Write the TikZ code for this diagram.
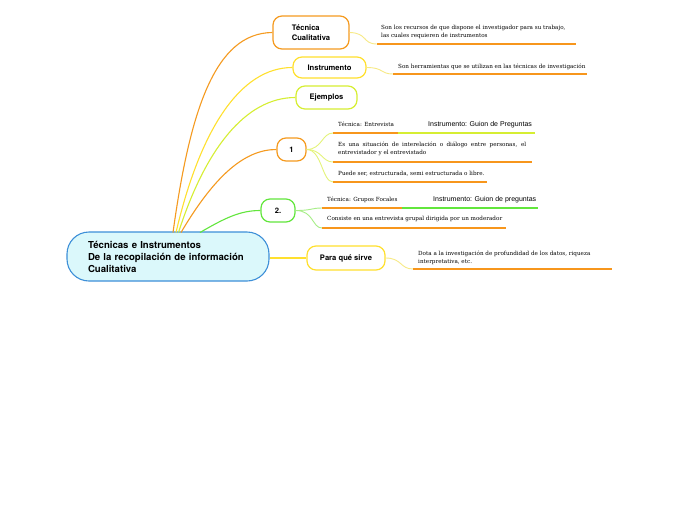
\documentclass[tikz,border=0pt]{standalone}
\usepackage{fontspec}
\setmainfont{DejaVu Serif}
\newfontfamily\hdfont{TeX Gyre Heros}
\newfontfamily\insfont{Liberation Sans}
\definecolor{orng}{HTML}{F59A1F}
\definecolor{yel}{HTML}{FFE02E}
\definecolor{ygr}{HTML}{D6EE32}
\definecolor{grn}{HTML}{62E63C}
\definecolor{paley}{HTML}{F7EA86}
\definecolor{paleyg}{HTML}{E4F37A}
\definecolor{paleg}{HTML}{A6EE86}
\definecolor{cfill}{HTML}{DBF8FB}
\definecolor{cline}{HTML}{3D8FD8}
\definecolor{ulo}{HTML}{F7961C}
\tikzset{
  x=1pt,y=-1pt,
  branch/.style={draw,line width=1.2pt,rounded corners=9pt,fill=white,inner sep=0pt,font=\hdfont\bfseries\fontsize{7.6}{10.5}\selectfont,align=left},
  leaf/.style={anchor=north west,inner sep=0pt,font=\fontsize{5.65}{7.8}\selectfont,align=left},
  insleaf/.style={anchor=north west,inner sep=0pt,font=\insfont\fontsize{7}{8}\selectfont},
  conn/.style={line width=1.1pt},
  lconn/.style={line width=0.9pt},
  uline/.style={line width=1.8pt},
}
\begin{document}
\begin{tikzpicture}
\useasboundingbox[fill=white] (0,0) rectangle (696,520);
% central
\node[draw=cline,fill=cfill,line width=1.1pt,rounded corners=22pt,minimum width=202pt,minimum height=49pt,inner sep=0pt,text width=160pt,align=left,font=\hdfont\bfseries\fontsize{9.6}{12}\selectfont] (c) at (168,256.5) {Técnicas e Instrumentos\\De la recopilación de información\\Cualitativa};
% branches
\node[branch,draw=orng,minimum width=76pt,minimum height=33pt] (tc) at (311,32.5) {Técnica\\Cualitativa};
\node[branch,draw=yel,minimum width=73pt,minimum height=21pt] (ins) at (329.5,67.5) {Instrumento};
\node[branch,draw=ygr,minimum width=61pt,minimum height=23pt] (ej) at (326.5,97.5) {Ejemplos};
\node[branch,draw=orng,minimum width=29pt,minimum height=23pt] (n1) at (291.5,149.5) {1};
\node[branch,draw=grn,minimum width=34pt,minimum height=23pt] (n2) at (278,210.5) {2.};
\node[branch,draw=yel,minimum width=78pt,minimum height=24pt] (ps) at (346,258) {Para qué sirve};
% start points on central node
\coordinate (s1) at (173,232.5);
\coordinate (s2) at (176,232.5);
\coordinate (s3) at (178.5,232.5);
\coordinate (s4) at (181,232.5);
\coordinate (s5) at (200,232.5);
\draw[conn,orng] (s1) .. controls (190,110) and (215,33) .. (tc.west);
\draw[conn,yel] (s2) .. controls (200,130) and (240,67.5) .. (ins.west);
\draw[conn,ygr] (s3) .. controls (205,150) and (245,97.5) .. (ej.west);
\draw[conn,orng] (s4) .. controls (215,175) and (245,149.5) .. (n1.west);
\draw[conn,grn] (s5) .. controls (225,218) and (240,210.5) .. (n2.west);
\draw[conn,yel] (c.east |- ps.west) -- (ps.west);
% leaves: Tecnica
\coordinate (t0) at (377,44); \coordinate (t1) at (576,44);
\node[leaf] (tl) at (381,25.5) {Son los recursos de que dispone el investigador para su trabajo,\\las cuales requieren de instrumentos};
\draw[lconn,paley] (tc.east) .. controls (368,33) and (362,44) .. (t0);
\draw[uline,ulo] (t0) -- (t1);
% Instrumento
\coordinate (i0) at (393,74); \coordinate (i1) at (587,74);
\node[leaf] (il) at (398,63.5) {Son herramientas que se utilizan en las técnicas de investigación};
\draw[lconn,paley] (ins.east) .. controls (384,67.5) and (380,74) .. (i0);
\draw[uline,ulo] (i0) -- (i1);
% node 1 leaves
\coordinate (a0) at (333,133); \coordinate (a1) at (398,133); \coordinate (a2) at (535,133);
\coordinate (b0) at (333,162); \coordinate (b1) at (532,162);
\coordinate (d0) at (333,182); \coordinate (d1) at (487,182);
\node[leaf] (la) at (338,122) {Técnica: Entrevista};
\node[insleaf] (lai) at (428,121) {Instrumento: Guion de Preguntas};
\node[leaf,text width=188pt,align=justify] (lb) at (338,142) {Es una situación de interelación o diálogo entre personas, el\linebreak entrevistador y el entrevistado};
\node[leaf] (ld) at (338,171) {Puede ser, estructurada, semi estructurada o libre.};
\draw[lconn,paleyg] (n1.east) .. controls (322,149.5) and (322,133) .. (a0);
\draw[lconn,paleyg] (n1.east) .. controls (322,149.5) and (322,162) .. (b0);
\draw[lconn,paleyg] (n1.east) .. controls (322,149.5) and (322,182) .. (d0);
\draw[uline,ulo] (a0) -- (a1);
\draw[uline,ygr] (a1) -- (a2);
\draw[uline,ulo] (b0) -- (b1);
\draw[uline,ulo] (d0) -- (d1);
% node 2 leaves
\coordinate (e0) at (322,208); \coordinate (e1) at (402,208); \coordinate (e2) at (538,208);
\coordinate (f0) at (322,228); \coordinate (f1) at (506,228);
\node[leaf] (le) at (327,197) {Técnica: Grupos Focales};
\node[insleaf] (lei) at (433,196) {Instrumento: Guion de preguntas};
\node[leaf] (lf) at (327,216.5) {Consiste en una entrevista grupal dirigida por un moderador};
\draw[lconn,paleg] (n2.east) .. controls (312,210.5) and (311,208) .. (e0);
\draw[lconn,paleg] (n2.east) .. controls (314,210.5) and (312,228) .. (f0);
\draw[uline,ulo] (e0) -- (e1);
\draw[uline,grn] (e1) -- (e2);
\draw[uline,ulo] (f0) -- (f1);
% Para que sirve
\coordinate (p0) at (413,269); \coordinate (p1) at (612,269);
\node[leaf] (pl) at (418,250.5) {Dota a la investigación de profundidad de los datos, riqueza\\interpretativa, etc.};
\draw[lconn,paley] (ps.east) .. controls (402,258) and (400,269) .. (p0);
\draw[uline,ulo] (p0) -- (p1);
\end{tikzpicture}
\end{document}
